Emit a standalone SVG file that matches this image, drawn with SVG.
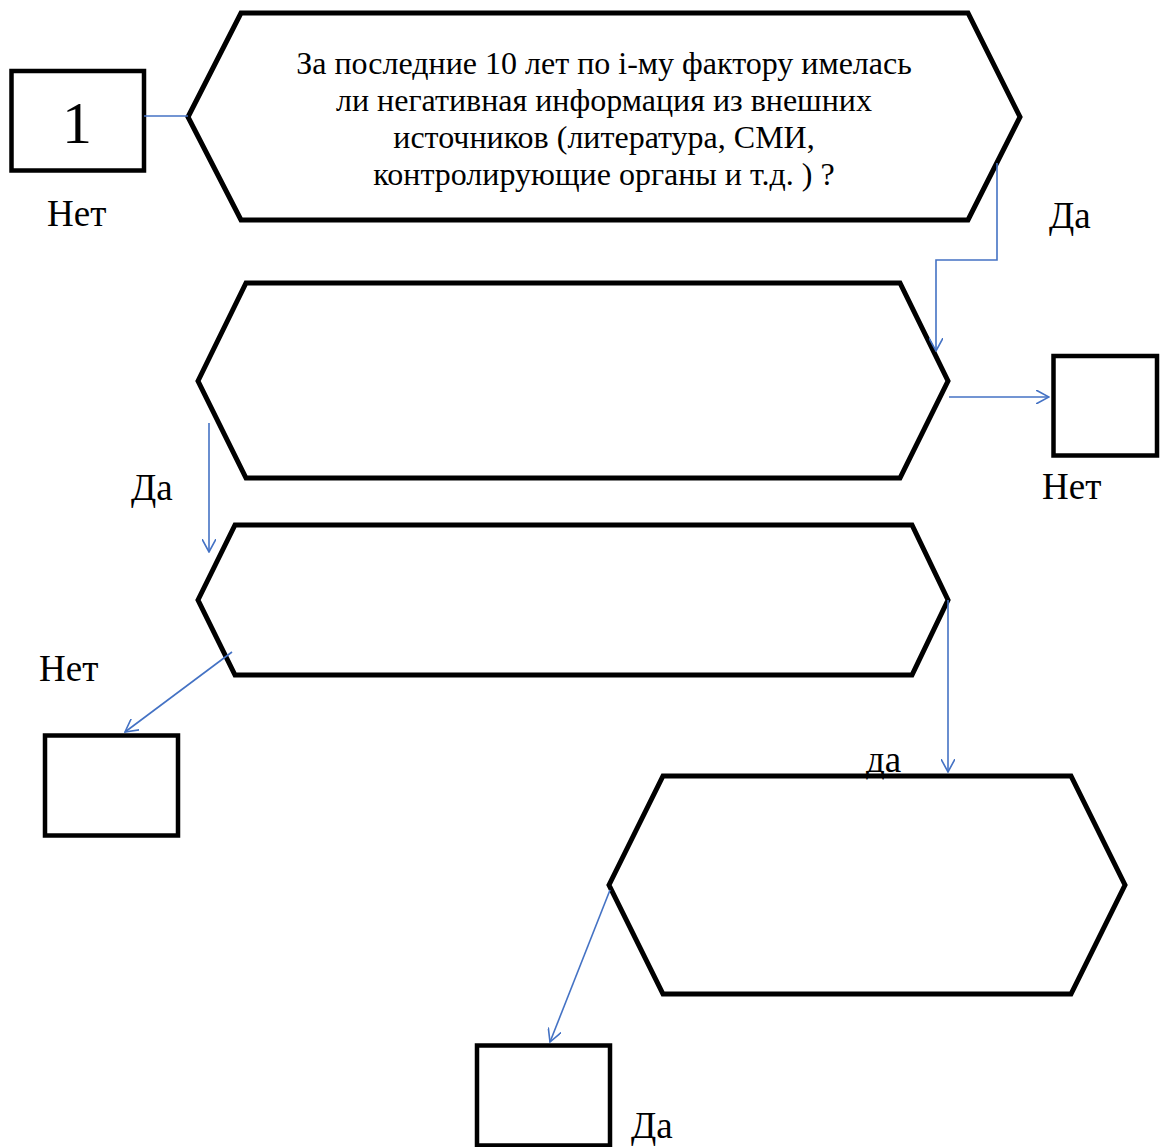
<svg xmlns="http://www.w3.org/2000/svg" width="1160" height="1147" viewBox="0 0 1160 1147">
<style>
.hex{fill:none;stroke:#000;stroke-width:5;stroke-linejoin:miter}
.box{fill:none;stroke:#000;stroke-width:4.5}
.con{fill:none;stroke:#4472C4;stroke-width:1.6}
.t{font-family:"Liberation Serif","Times New Roman",serif;fill:#000}
.main{font-size:32px;text-anchor:middle}
.lbl{font-size:37px}
</style>
<defs>
<marker id="arr" viewBox="0 0 14 14" refX="13" refY="7" markerWidth="14" markerHeight="14" markerUnits="userSpaceOnUse" orient="auto">
<path d="M0,0 L13,7 L0,14" fill="none" stroke="#4472C4" stroke-width="1.6"/>
</marker>
</defs>
<rect width="1160" height="1147" fill="#fff"/>
<g id="box1">
<rect class="box" x="11.5" y="71" width="132.5" height="99.5"/>
<text class="t" x="77" y="143" font-size="60" text-anchor="middle">1</text>
</g>
<g id="hex1">
<polygon class="hex" points="188,117 241,13 968,13 1020,117 968,220 241,220"/>
<text class="t main"><tspan x="604" y="74">За последние 10 лет по i-му фактору имелась</tspan><tspan x="604" y="111">ли негативная информация из внешних</tspan><tspan x="604" y="148">источников (литература, СМИ,</tspan><tspan x="604" y="185">контролирующие органы и т.д. ) ?</tspan></text>
</g>
<g id="hex2"><polygon class="hex" points="198,381 246,283 900,283 948,381 900,478 246,478"/></g>
<g id="boxR"><rect class="box" x="1053.5" y="356" width="103.5" height="99.5"/></g>
<g id="hex3"><polygon class="hex" points="198,600 235,525 912,525 948,600 912,675 235,675"/></g>
<g id="boxL"><rect class="box" x="45" y="735.5" width="133" height="100"/></g>
<g id="hex4"><polygon class="hex" points="609,885 663,776 1071,776 1125,885 1071,994 663,994"/></g>
<g id="boxB"><rect class="box" x="477" y="1045.5" width="133" height="100"/></g>
<g id="connectors">
<line class="con" x1="144" y1="116" x2="188" y2="116"/>
<polyline class="con" points="997,163 997,260 936,260 936,351" marker-end="url(#arr)"/>
<line class="con" x1="949" y1="397" x2="1049" y2="397" marker-end="url(#arr)"/>
<line class="con" x1="209" y1="423" x2="209" y2="552" marker-end="url(#arr)"/>
<line class="con" x1="232" y1="652" x2="125" y2="732" marker-end="url(#arr)"/>
<line class="con" x1="948" y1="600" x2="948" y2="772" marker-end="url(#arr)"/>
<line class="con" x1="610" y1="890" x2="550" y2="1042" marker-end="url(#arr)"/>
</g>
<g id="labels">
<text class="t lbl" x="47" y="226">Нет</text>
<text class="t lbl" x="1049" y="228">Да</text>
<text class="t lbl" x="1042" y="499">Нет</text>
<text class="t lbl" x="131" y="500">Да</text>
<text class="t lbl" x="39" y="681">Нет</text>
<text class="t lbl" x="866" y="772">да</text>
<text class="t lbl" x="631" y="1138">Да</text>
</g>
</svg>
